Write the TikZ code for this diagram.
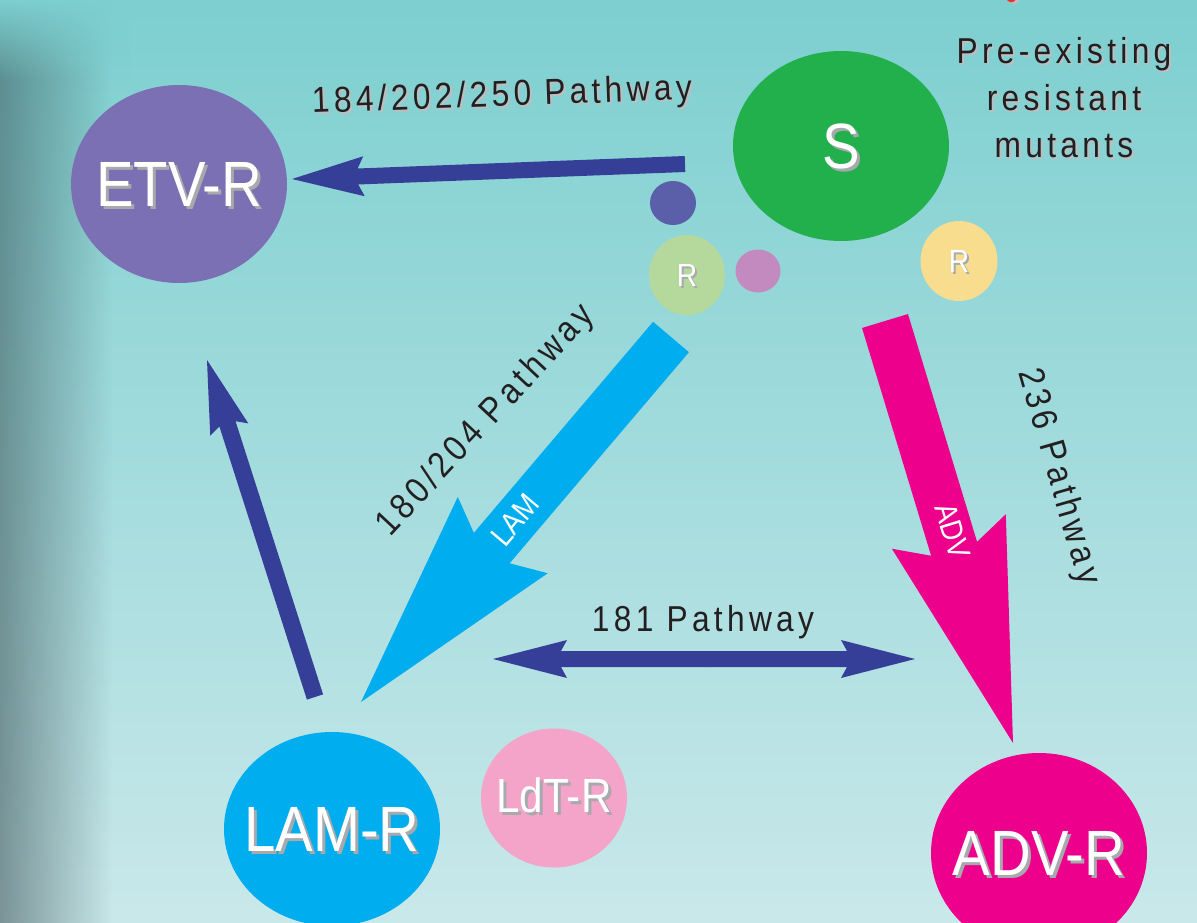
\documentclass[tikz,border=0pt]{standalone}
\usepackage{fontspec}
\setmainfont{Liberation Sans}
\newfontfamily\lblfont[FakeStretch=0.88,LetterSpace=12]{Liberation Sans}
\newfontfamily\bigfont[FakeStretch=0.88]{Liberation Sans}
\usetikzlibrary{shapes.geometric,calc,fadings}

\definecolor{bgtop}{HTML}{7DCFD0}
\definecolor{bgbot}{HTML}{C9E8EA}
\definecolor{shtop}{HTML}{5A8F91}
\definecolor{shbot}{HTML}{7A9397}
\definecolor{etvcol}{HTML}{7B70B3}
\definecolor{scol}{HTML}{21B04B}
\definecolor{dotblue}{HTML}{5B5EA8}
\definecolor{rgreen}{HTML}{B5D99C}
\definecolor{dotpurple}{HTML}{C28ABE}
\definecolor{ryellow}{HTML}{F9DD8F}
\definecolor{arrowblue}{HTML}{363F98}
\definecolor{lamcol}{HTML}{00AEEF}
\definecolor{advcol}{HTML}{EC008C}
\definecolor{ldtcol}{HTML}{F3A4C8}
\definecolor{txtdark}{HTML}{231F20}
\definecolor{shlight}{HTML}{BCBEC0}
\definecolor{shgray}{HTML}{A7A9AC}
\definecolor{redmark}{HTML}{EE3124}

\tikzfading[name=fadeR, left color=transparent!0, middle color=transparent!45, right color=transparent!100]
\tikzfading[name=fadeD, top color=transparent!0, bottom color=transparent!100]

% text with drop shadow: #1 shadow colour, #2 offset, #3 text
\newcommand{\shd}[3]{\rlap{\smash{\kern#2\raisebox{-#2}{\color{#1}#3}}}#3}
% block arrow: #1 colour, #2 from, #3 tip, #4 shaft half width,
% #5 head length, #6 notch distance from tip, #7 head half width
\newcommand{\pathArrow}[7]{%
  \fill[#1] ($(#2)!#4!90:(#3)$) -- ($(#3)!#6!(#2)!#4!90:(#3)$)
    -- ($(#3)!#5!(#2)!#7!90:(#3)$) -- (#3)
    -- ($(#3)!#5!(#2)!#7!-90:(#3)$) -- ($(#3)!#6!(#2)!#4!-90:(#3)$)
    -- ($(#2)!#4!-90:(#3)$) -- cycle;}

\tikzset{
  blob/.style={ellipse, inner sep=0pt, outer sep=0pt},
  bigtxt/.style={font=\bigfont\fontsize{64}{70}\selectfont, text=white, inner sep=0pt},
  midtxt/.style={font=\bigfont\fontsize{48}{52}\selectfont, text=white, inner sep=0pt},
  rtxt/.style={font=\bigfont\fontsize{32}{34}\selectfont, text=white, inner sep=0pt},
  intxt/.style={font=\bigfont\fontsize{31}{34}\selectfont, text=white, inner sep=0pt},
  lbl/.style={font=\lblfont\fontsize{36}{47}\selectfont, text=txtdark, inner sep=0pt},
}

\begin{document}
\begin{tikzpicture}[x=1pt,y=-1pt]
\useasboundingbox (0,0) rectangle (1197,923);
\clip (0,0) rectangle (1197,923);
% background
\shade[top color=bgtop, bottom color=bgbot] (0,0) rectangle (1197,923);
\shade[top color=shtop, bottom color=shbot, path fading=fadeR] (0,0) rectangle (112,923);
\fill[bgtop, path fading=fadeD] (0,0) rectangle (130,80);
% red fragment at top edge
\draw[shlight, line width=3pt, line cap=round] (1011,1) .. controls (1015,4) and (1018,2) .. (1019,-2);
\draw[redmark, line width=3pt, line cap=round] (1008,-1) .. controls (1011,2) and (1014,1) .. (1015,-3);

% connector end points
\coordinate (etvA) at (685,164);
\coordinate (etvB) at (292,179);
\coordinate (upA) at (315,697);
\coordinate (upB) at (207,360);
\coordinate (dL) at (493,659);
\coordinate (dM) at (704,659);
\coordinate (dR) at (915,659);
\coordinate (lamA) at (671,337);
\coordinate (lamB) at (361,702);
\coordinate (advA) at (885,321);
\coordinate (advB) at (1013,743);

% arrows
\pathArrow{arrowblue}{etvA}{etvB}{8pt}{72pt}{66pt}{20pt}
\pathArrow{arrowblue}{upA}{upB}{8.5pt}{73pt}{67pt}{20pt}
\pathArrow{arrowblue}{dM}{dL}{8pt}{74pt}{68pt}{19pt}
\pathArrow{arrowblue}{dM}{dR}{8pt}{74pt}{68pt}{19pt}
\pathArrow{lamcol}{lamA}{lamB}{23.5pt}{219pt}{202pt}{59pt}
\pathArrow{advcol}{advA}{advB}{24pt}{221pt}{203pt}{59.5pt}

% nodes
\node[blob, fill=etvcol, minimum width=216pt, minimum height=198pt,
  label={[bigtxt]center:\shd{shgray}{3pt}{ETV-R}}] (etv) at (179,184) {};
\node[blob, fill=scol, minimum width=216pt, minimum height=190pt,
  label={[bigtxt]center:\shd{shgray}{3pt}{S}}] (s) at (841,146) {};
\node[blob, fill=dotblue, minimum width=46pt, minimum height=44pt] (d1) at (673,203) {};
\node[blob, fill=rgreen, minimum width=76pt, minimum height=80pt,
  label={[rtxt]center:\shd{shgray}{2pt}{R}}] (r1) at (687,275) {};
\node[blob, fill=dotpurple, minimum width=45pt, minimum height=43pt] (d2) at (758,271) {};
\node[blob, fill=ryellow, minimum width=77pt, minimum height=80pt,
  label={[rtxt]center:\shd{shgray}{2pt}{R}}] (r2) at (959,261) {};
\node[blob, fill=lamcol, minimum width=216pt, minimum height=194pt,
  label={[bigtxt]center:\shd{shgray}{3pt}{LAM-R}}] (lam) at (332,829) {};
\node[blob, fill=ldtcol, minimum width=146pt, minimum height=139pt,
  label={[midtxt, yshift=3pt]center:\shd{shgray}{3pt}{LdT-R}}] (ldt) at (554,798) {};
\node[blob, fill=advcol, minimum width=216pt, minimum height=200pt,
  label={[bigtxt]center:\shd{shgray}{3pt}{ADV-R}}] (adv) at (1039,853) {};

% labels
\node[lbl, align=center] (pre) at (1064,98) {\shd{shlight}{2pt}{Pre-existing}\\\shd{shlight}{2pt}{resistant}\\\shd{shlight}{2pt}{mutants}};
\node[lbl, rotate=2] (etvlbl) at (502,97) {\shd{shlight}{2pt}{184/202/250 Pathway}};
\node[lbl, rotate=47] (lamlbl) at (486,421) {180/204 Pathway};
\node[lbl, rotate=-74] (advlbl) at (1058,477) {236 Pathway};
\node[lbl] (l181) at (703,622) {181 Pathway};
\node[intxt, rotate=50] (lamin) at (515,520) {LAM};
\node[intxt, rotate=-73] (advin) at (953,531) {ADV};
\end{tikzpicture}
\end{document}
